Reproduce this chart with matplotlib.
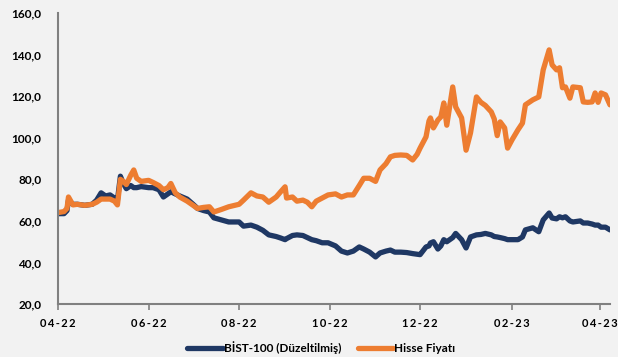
import pandas as pd
import numpy as np
import matplotlib.pyplot as plt
import matplotlib.dates as mdates

# =========================
# DATA
# =========================
dates = [
    "2022-04-01", "2022-04-05", "2022-04-07", "2022-04-08", "2022-04-11", "2022-04-14",
    "2022-04-19", "2022-04-24", "2022-04-27", "2022-04-30", "2022-05-03", "2022-05-06",
    "2022-05-09", "2022-05-11", "2022-05-13", "2022-05-15", "2022-05-17", "2022-05-20",
    "2022-05-22", "2022-05-24", "2022-05-27", "2022-06-01", "2022-06-04", "2022-06-08",
    "2022-06-11", "2022-06-14", "2022-06-16", "2022-06-19", "2022-06-22", "2022-06-27",
    "2022-07-01", "2022-07-04", "2022-07-08", "2022-07-12", "2022-07-15", "2022-07-20",
    "2022-07-25", "2022-08-01", "2022-08-04", "2022-08-09", "2022-08-13", "2022-08-17",
    "2022-08-21", "2022-08-26", "2022-08-29", "2022-09-01", "2022-09-02", "2022-09-06",
    "2022-09-09", "2022-09-13", "2022-09-16", "2022-09-19", "2022-09-22", "2022-09-26",
    "2022-09-30", "2022-10-05", "2022-10-09", "2022-10-13", "2022-10-17", "2022-10-21",
    "2022-10-24", "2022-10-28", "2022-11-01", "2022-11-04", "2022-11-08", "2022-11-11",
    "2022-11-14", "2022-11-18", "2022-11-22", "2022-11-26", "2022-11-29", "2022-12-01",
    "2022-12-05", "2022-12-07", "2022-12-08", "2022-12-10", "2022-12-13", "2022-12-15",
    "2022-12-17", "2022-12-19", "2022-12-23", "2022-12-25", "2022-12-29", "2023-01-01",
    "2023-01-04", "2023-01-08", "2023-01-11", "2023-01-14", "2023-01-18", "2023-01-20",
    "2023-01-22", "2023-01-24", "2023-01-27", "2023-01-29", "2023-02-01", "2023-02-05",
    "2023-02-08", "2023-02-10", "2023-02-15", "2023-02-19", "2023-02-22", "2023-02-26",
    "2023-02-28", "2023-03-03", "2023-03-05", "2023-03-07", "2023-03-09", "2023-03-12",
    "2023-03-14", "2023-03-19", "2023-03-21", "2023-03-24", "2023-03-27", "2023-03-29",
    "2023-03-31", "2023-04-02", "2023-04-05", "2023-04-08",
]

bist = [
    63.5, 63.5, 65.0, 70.0, 68.0, 68.0,
    67.5, 68.0, 70.0, 73.5, 72.0, 72.5,
    71.0, 70.0, 81.5, 78.0, 75.5, 77.0,
    76.0, 76.0, 76.5, 76.0, 76.0, 75.0,
    71.5, 73.0, 74.0, 73.0, 72.0, 70.5,
    68.0, 66.0, 65.0, 64.3, 61.5, 60.5,
    59.5, 59.5, 57.5, 58.0, 57.0, 55.5,
    53.3, 52.5, 51.8, 51.0, 51.5, 53.0,
    53.3, 53.0, 52.0, 51.0, 50.5, 49.5,
    49.5, 48.0, 45.5, 44.6, 45.5, 47.5,
    46.5, 45.0, 42.7, 44.6, 45.5, 46.0,
    45.0, 45.0, 44.8, 44.3, 44.0, 43.8,
    47.5, 48.0, 49.4, 50.0, 46.5, 48.0,
    51.0, 50.0, 52.0, 54.0, 51.0, 47.0,
    52.3, 53.3, 53.5, 54.0, 53.3, 52.5,
    52.3, 52.0, 51.5, 51.0, 51.0, 51.0,
    52.3, 55.7, 56.7, 54.8, 60.5, 63.8,
    61.4, 61.0, 62.0, 61.5, 62.0, 60.0,
    59.5, 60.0, 59.0, 59.0, 58.5, 58.0,
    58.0, 57.0, 57.0, 55.7,
]

hisse = [
    64.0, 64.5, 66.0, 71.5, 67.7, 68.0,
    67.5, 68.0, 69.0, 70.5, 70.5, 70.5,
    69.5, 67.7, 80.0, 79.0, 77.5, 82.0,
    84.5, 80.5, 79.0, 79.5, 78.5, 77.0,
    75.0, 76.0, 78.0, 73.5, 71.5, 69.5,
    67.5, 66.0, 66.5, 66.8, 64.3, 65.5,
    66.8, 68.0, 70.0, 73.5, 72.0, 71.5,
    69.0, 71.5, 74.0, 76.4, 71.0, 71.5,
    69.5, 70.0, 69.0, 66.8, 69.5, 71.0,
    72.5, 73.0, 71.5, 72.5, 72.5, 77.0,
    80.5, 80.5, 79.0, 84.5, 87.5, 90.8,
    91.5, 91.7, 91.5, 89.3, 92.0, 95.0,
    100.4, 108.0, 109.5, 104.7, 108.5, 110.0,
    116.7, 106.0, 124.4, 114.8, 109.5, 94.0,
    102.3, 119.6, 117.0, 115.5, 112.4, 109.0,
    101.0, 107.6, 104.7, 95.0, 99.0, 103.8,
    107.0, 115.8, 118.2, 119.6, 132.6, 142.2,
    135.0, 132.6, 133.6, 124.0, 124.4, 119.0,
    124.4, 124.0, 117.2, 117.0, 117.2, 121.5,
    117.0, 121.5, 120.6, 115.8,
]

x = pd.to_datetime(dates)

bg = "#F2F2F2"
navy = "#1F3864"
orange = "#ED7D31"
grey = "#808080"

plt.rcParams["font.family"] = ["Lato", "DejaVu Sans"]

fig = plt.figure(figsize=(6.18, 3.57), dpi=100, facecolor=bg)
ax = fig.add_axes([0.094, 0.148, 0.893, 0.816], facecolor=bg)

ax.plot(x, bist, color=navy, lw=3.8, solid_joinstyle="round",
        solid_capstyle="round", label="BİST-100 (Düzeltilmiş)")
ax.plot(x, hisse, color=orange, lw=3.8, solid_joinstyle="round",
        solid_capstyle="round", label="Hisse Fiyatı")

ax.set_ylim(20, 160)
ax.set_yticks(np.arange(20, 161, 20))
ax.set_yticklabels([f"{v:.1f}".replace(".", ",") for v in np.arange(20, 161, 20)],
                   fontweight="bold", fontsize=8.5)
ax.set_xlim(pd.Timestamp("2022-04-01"), pd.Timestamp("2023-04-08"))
ax.xaxis.set_major_locator(mdates.MonthLocator(bymonth=[2, 4, 6, 8, 10, 12]))
# letter-spaced month labels like the original
ax.xaxis.set_major_formatter(
    plt.FuncFormatter(lambda v, p: "\u2009".join(mdates.num2date(v).strftime("%m-%y"))))

ax.tick_params(axis="y", length=0, pad=12, colors="black")
ax.tick_params(axis="x", length=4, width=1.2, color=grey, pad=6, labelsize=8)
for lab in ax.get_xticklabels():
    lab.set_fontweight("bold")

for s in ["top", "right"]:
    ax.spines[s].set_visible(False)
for s in ["left", "bottom"]:
    ax.spines[s].set_color(grey)
    ax.spines[s].set_linewidth(1.5)

leg = fig.legend(loc="center", bbox_to_anchor=(0.52, 0.027), ncol=2, frameon=False,
                 handlelength=3.0, handletextpad=0.1, columnspacing=1.4,
                 prop={"weight": "bold", "size": 8.5})

fig.savefig("out.png", dpi=100, facecolor=bg)
